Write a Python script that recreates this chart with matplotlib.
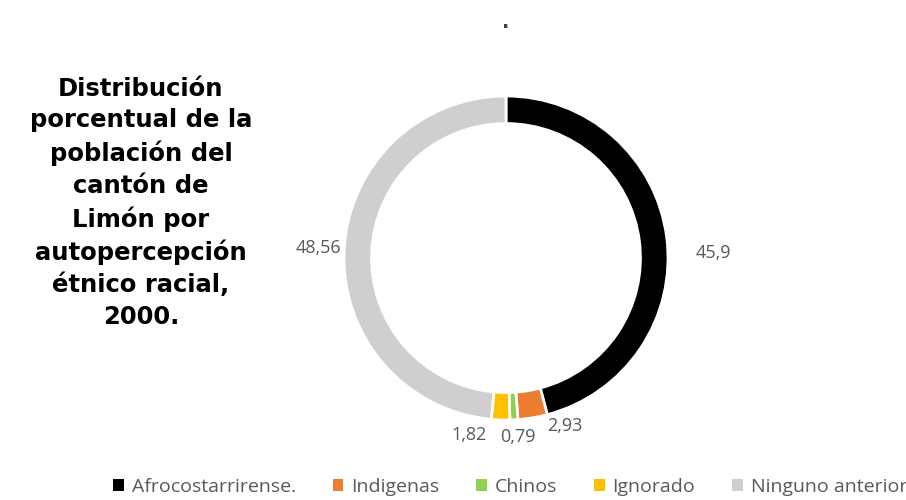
import matplotlib.pyplot as plt
import numpy as np

# datos
categorias = ['Afrocostarrirense.', 'Indigenas', 'Chinos', 'Ignorado', 'Ninguno anterior']
valores = [45.9, 2.93, 0.79, 1.82, 48.56]
etiquetas = ['45,9', '2,93', '0,79', '1,82', '48,56']
colores = ['#000000', '#ED7D31', '#92D050', '#FFC000', '#D0CECE']

titulo = ('Distribución\nporcentual de la\npoblación del\ncantón de\nLimón por\n'
          'autopercepción\nétnico racial,\n2000.')

fig = plt.figure(figsize=(9.06, 5), dpi=100)
W, H = 906, 500
cx, cy, r = 506, 258, 162
ax = fig.add_axes([(cx - r) / W, (H - cy - r) / H, 2 * r / W, 2 * r / H])

wedges, _ = ax.pie(valores, colors=colores, startangle=90, counterclock=False,
                   radius=1, wedgeprops=dict(width=0.17, edgecolor='white', linewidth=2))
ax.set_xlim(-1, 1)
ax.set_ylim(-1, 1)
ax.set_aspect('equal')
ax.axis('off')

# etiquetas fuera del anillo
dist = [1.29, 1.12, 1.11, 1.11, 1.16]
desp = [(0, -16), (21, 8), (2, 0.5), (-22, 2), (0, 1)]
for w, txt, d, (ox, oy) in zip(wedges, etiquetas, dist, desp):
    ang = np.deg2rad((w.theta1 + w.theta2) / 2)
    ax.annotate(txt, (d * np.cos(ang), d * np.sin(ang)), xytext=(ox, oy),
                textcoords='offset points', ha='center', va='center',
                annotation_clip=False, fontsize=13, color='#595959',
                family=['Open Sans', 'DejaVu Sans'])

fig.text(141 / W, 1 - 203 / H, titulo, ha='center', va='center', fontsize=17.5,
         fontweight='bold', family=['DejaVu Sans'], linespacing=1.40,
         color='#000000')
fig.text(cx / W, 1 - 22 / H, '.', ha='center', va='center', fontsize=14,
         fontweight='bold', color='#404040')

leg = fig.legend(wedges, categorias, loc='center', bbox_to_anchor=(0.563, 1 - 487 / H),
                 ncol=5, frameon=False, handlelength=0.55, handleheight=0.55,
                 handletextpad=0.4, columnspacing=1.9,
                 prop=dict(family=['Open Sans', 'DejaVu Sans'], size=14))
for t in leg.get_texts():
    t.set_color('#595959')
for p in leg.get_patches():
    p.set_edgecolor('none')

fig.savefig('out.png', dpi=100)
